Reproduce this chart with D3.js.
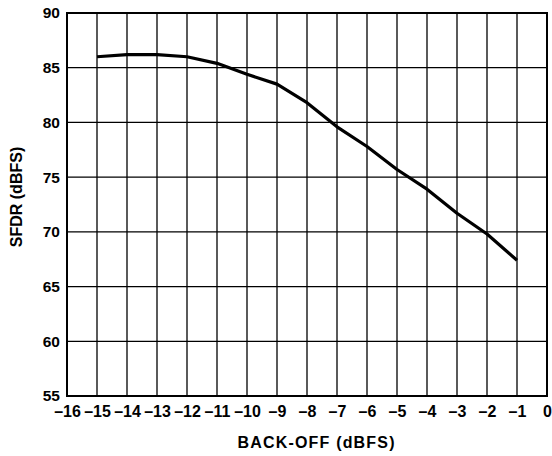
<!DOCTYPE html>
<html><head><meta charset="utf-8">
<script src="https://cdn.jsdelivr.net/npm/d3@7"></script>
<style>body{margin:0;background:#fff}svg{display:block}text{font-family:Arial,"Liberation Sans",sans-serif;font-weight:bold;fill:#000}</style>
</head><body>
<script>
const backoff = [-15,-14,-13,-12,-11,-10,-9,-8,-7,-6,-5,-4,-3,-2,-1];
const sfdr = [86.0,86.2,86.2,86.0,85.4,84.4,83.5,81.8,79.6,77.8,75.7,73.9,71.7,69.8,67.4];
const xTicks = [-16,-15,-14,-13,-12,-11,-10,-9,-8,-7,-6,-5,-4,-3,-2,-1,0];
const yTicks = [55,60,65,70,75,80,85,90];
const xTitle = "BACK-OFF (dBFS)";
const yTitle = "SFDR (dBFS)";

const W=552,H=456, L=67,R=547,T=13,B=396;
const svg=d3.select("body").append("svg").attr("width",W).attr("height",H);
const x=d3.scaleLinear().domain([-16,0]).range([L,R]);
const y=d3.scaleLinear().domain([55,90]).range([B,T]);

const g=svg.append("g");
g.selectAll(".vg").data(xTicks).enter().append("line")
 .attr("x1",d=>x(d)).attr("x2",d=>x(d)).attr("y1",T).attr("y2",B)
 .attr("stroke","#000").attr("stroke-width",1.3);
g.selectAll(".hg").data(yTicks).enter().append("line")
 .attr("x1",L).attr("x2",R).attr("y1",d=>y(d)).attr("y2",d=>y(d))
 .attr("stroke","#000").attr("stroke-width",1.3);
g.append("rect").attr("x",L).attr("y",T).attr("width",R-L).attr("height",B-T)
 .attr("fill","none").attr("stroke","#000").attr("stroke-width",2);

const xa=svg.append("g").attr("transform",`translate(0,${B})`)
 .call(d3.axisBottom(x).tickValues(xTicks).tickSize(0).tickPadding(10).tickFormat(d=>d<0?"\u2013"+Math.abs(d):d));
xa.select(".domain").remove();
xa.selectAll("text").style("font-size","16px").style("font-family","Arial, 'Liberation Sans', sans-serif").style("font-weight","bold").attr("fill","#000");

const ya=svg.append("g").attr("transform",`translate(${L},0)`)
 .call(d3.axisLeft(y).tickValues(yTicks).tickSize(0).tickPadding(7));
ya.select(".domain").remove();
ya.selectAll("text").style("font-size","15.5px").style("font-family","Arial, 'Liberation Sans', sans-serif").style("font-weight","bold").attr("fill","#000");

const line=d3.line().x((d,i)=>x(backoff[i])).y(d=>y(d));
svg.append("path").datum(sfdr).attr("d",line).attr("fill","none")
 .attr("stroke","#000").attr("stroke-width",3.2).attr("stroke-linejoin","round");

svg.append("text").attr("x",316).attr("y",448).attr("text-anchor","middle")
 .attr("textLength",157).attr("lengthAdjust","spacing")
 .style("font-size","16px").text(xTitle);
svg.append("text").attr("transform","translate(22,197) rotate(-90)").attr("text-anchor","middle")
 .style("font-size","16px").text(yTitle);
</script>
</body></html>
